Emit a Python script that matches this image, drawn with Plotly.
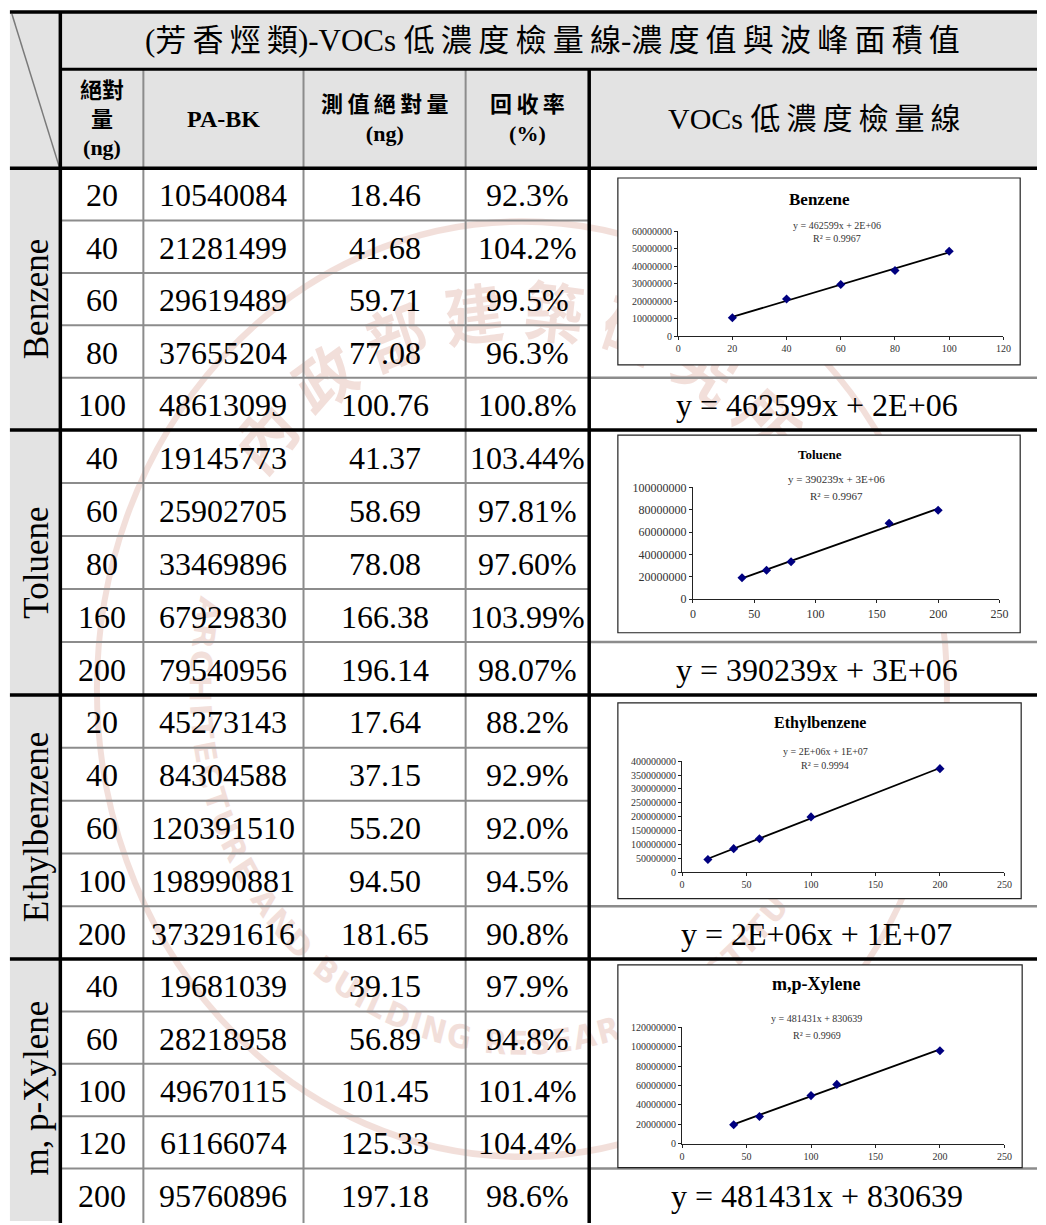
import base64
import math
import numpy as np
import plotly.graph_objects as go

W, H = 1046, 1225

# ---------------- data ----------------
group_labels = ["Benzene", "Toluene", "Ethylbenzene", "m, p-Xylene"]
chart_titles = ["Benzene", "Toluene", "Ethylbenzene", "m,p-Xylene"]

benzene_ng = [20, 40, 60, 80, 100]
benzene_area = [10540084, 21281499, 29619489, 37655204, 48613099]
benzene_meas = ["18.46", "41.68", "59.71", "77.08", "100.76"]
benzene_rec = ["92.3%", "104.2%", "99.5%", "96.3%", "100.8%"]

toluene_ng = [40, 60, 80, 160, 200]
toluene_area = [19145773, 25902705, 33469896, 67929830, 79540956]
toluene_meas = ["41.37", "58.69", "78.08", "166.38", "196.14"]
toluene_rec = ["103.44%", "97.81%", "97.60%", "103.99%", "98.07%"]

ethyl_ng = [20, 40, 60, 100, 200]
ethyl_area = [45273143, 84304588, 120391510, 198990881, 373291616]
ethyl_meas = ["17.64", "37.15", "55.20", "94.50", "181.65"]
ethyl_rec = ["88.2%", "92.9%", "92.0%", "94.5%", "90.8%"]

xylene_ng = [40, 60, 100, 120, 200]
xylene_area = [19681039, 28218958, 49670115, 61166074, 95760896]
xylene_meas = ["39.15", "56.89", "101.45", "125.33", "197.18"]
xylene_rec = ["97.9%", "94.8%", "101.4%", "104.4%", "98.6%"]

equations = ["y = 462599x + 2E+06", "y = 390239x + 3E+06",
             "y = 2E+06x + 1E+07", "y = 481431x + 830639"]
r_squared = ["0.9967", "0.9967", "0.9994", "0.9969"]

x_axis_max = [120, 250, 250, 250]
x_axis_dtick = [20, 50, 50, 50]
y_axis_max = [60000000, 100000000, 400000000, 120000000]
y_axis_dtick = [10000000, 20000000, 50000000, 20000000]

title_text = "(芳香烴類)-VOCs 低濃度檢量線-濃度值與波峰面積值"
header_ng = "絕對<br>量<br>(ng)"
header_pabk = "PA-BK"
header_meas = "測值絕對量<br>(ng)"
header_rec = "回收率<br>(%)"
header_curve = "VOCs 低濃度檢量線"
seal_cn = "內政部建築研究所"
seal_en = "ARCHITECTURE AND BUILDING RESEARCH INSTITUTE"

groups = [
    (benzene_ng, benzene_area, benzene_meas, benzene_rec),
    (toluene_ng, toluene_area, toluene_meas, toluene_rec),
    (ethyl_ng, ethyl_area, ethyl_meas, ethyl_rec),
    (xylene_ng, xylene_area, xylene_meas, xylene_rec),
]

# ---------------- geometry (pixels) ----------------
COLS = [7, 58, 142, 304, 468, 593, 1043]
HEAD = [5, 63, 163]
GROUP_TOP = [163, 428, 696, 963]
GROUP_BOT = [428, 696, 963, 1228]

CHART_BOX = [(622, 173, 1029, 362), (622, 433, 1029, 633),
             (622, 704, 1030, 902), (622, 969, 1031, 1174)]
PLOT_AREA = [(683, 227, 1012, 333), (698, 486, 1008, 599),
             (687, 763, 1013, 875), (687, 1032, 1013, 1150)]
TITLE_POS = [(826, 195, 17), (826, 453, 13), (826, 724, 16), (823, 988, 18)]
EQ_POS = [(844, 221, 234, 10), (843, 477, 495, 11), (832, 753, 767, 10), (823, 1023, 1040, 10)]
TICK_SIZE = [10, 12, 10, 10]

FONT = "Liberation Serif, Noto Sans CJK TC, serif"
CJK = "Liberation Serif, Noto Sans CJK TC, sans-serif"
TNR = "Liberation Serif, Times New Roman, serif"
GRID = "#8c8c8c"
HEADFILL = "#e3e3e3"


def px(x):
    return x / W


def py(y):
    return 1 - y / H


def is_cjk(c):
    return ord(c) > 0x2E80


def spread(s):
    out = ""
    for i, c in enumerate(s):
        out += c
        if i + 1 < len(s) and is_cjk(c) and is_cjk(s[i + 1]):
            out += "\u2009"
    return out


shapes, annots = [], []


def rect(x0, y0, x1, y1, fill, lc="rgba(0,0,0,0)", lw=0):
    shapes.append(dict(type="rect", xref="paper", yref="paper",
                       x0=px(x0), x1=px(x1), y0=py(y1), y1=py(y0),
                       fillcolor=fill, line=dict(color=lc, width=lw), layer="below"))


def seg(x0, y0, x1, y1, color, w):
    shapes.append(dict(type="line", xref="paper", yref="paper",
                       x0=px(x0), y0=py(y0), x1=px(x1), y1=py(y1),
                       line=dict(color=color, width=w), layer="below"))


def text(x, y, s, size, family=FONT, color="black", angle=0, bold=False):
    annots.append(dict(x=px(x), y=py(y), xref="paper", yref="paper", text=s,
                       showarrow=False, xanchor="center", yanchor="middle",
                       textangle=angle,
                       font=dict(family=family, size=size, color=color,
                                 weight="bold" if bold else "normal")))


# ---------------- fills ----------------
rect(COLS[0], HEAD[0], 1046, HEAD[2], HEADFILL)
for g in range(4):
    rect(COLS[0], GROUP_TOP[g], COLS[1] - 1, GROUP_BOT[g], HEADFILL)

# ---------------- table lines ----------------
for g in range(4):
    rh = (GROUP_BOT[g] - GROUP_TOP[g]) / 5
    for r in range(1, 5):
        yy = GROUP_TOP[g] + r * rh
        seg(COLS[1], yy, COLS[5], yy, GRID, 2)
    yy = GROUP_TOP[g] + 4 * rh
    seg(COLS[5], yy, 1046, yy, GRID, 2.5)
for c in (2, 3, 4):
    seg(COLS[c], HEAD[1], COLS[c], H + 5, GRID, 2)
seg(COLS[0] + 2, HEAD[0] + 2, COLS[1] - 1, HEAD[2] - 1, "#7a7a7a", 1.5)
seg(COLS[0], HEAD[0], 1046, HEAD[0], "black", 3.5)
seg(COLS[1], HEAD[1], 1046, HEAD[1], "black", 3)
seg(COLS[0], HEAD[2], 1046, HEAD[2], "black", 3.5)
for g in range(1, 4):
    seg(COLS[0], GROUP_TOP[g], 1046, GROUP_TOP[g], "black", 3.5)
seg(COLS[1], HEAD[0], COLS[1], H + 5, "black", 3.5)
seg(COLS[5], HEAD[1], COLS[5], H + 5, "black", 3.5)

# ---------------- chart boxes ----------------
for b in CHART_BOX:
    rect(b[0], b[1], b[2], b[3], "white", "#222222", 1.2)

# ---------------- header text ----------------
text(556, 34, spread(title_text), 31, CJK)
text((COLS[1] + COLS[2]) / 2, 113, header_ng, 22, CJK, bold=True)
text((COLS[2] + COLS[3]) / 2, 113, header_pabk, 24, FONT, bold=True)
text((COLS[3] + COLS[4]) / 2, 113, spread(header_meas), 22, CJK, bold=True)
text((COLS[4] + COLS[5]) / 2, 113, spread(header_rec), 22, CJK, bold=True)
text(821, 113, spread(header_curve), 30, CJK)

# ---------------- body text ----------------
for g, (ng, area, meas, rec) in enumerate(groups):
    rh = (GROUP_BOT[g] - GROUP_TOP[g]) / 5
    for r in range(5):
        yc = GROUP_TOP[g] + (r + 0.5) * rh + 1
        text((COLS[1] + COLS[2]) / 2, yc, str(ng[r]), 32)
        text((COLS[2] + COLS[3]) / 2, yc, str(area[r]), 32)
        text((COLS[3] + COLS[4]) / 2, yc, meas[r], 32)
        text((COLS[4] + COLS[5]) / 2, yc, rec[r], 32)
    yc = GROUP_TOP[g] + 4.5 * rh + 1
    text(823, yc, equations[g], 32)
    text((COLS[0] + COLS[1]) / 2 + 1, (GROUP_TOP[g] + min(GROUP_BOT[g], H)) / 2,
         group_labels[g], 35, angle=-90)

# ---------------- charts ----------------
fig = go.Figure()
layout_axes = {}
for i, (ng, area, _, _) in enumerate(groups):
    sfx = "" if i == 0 else str(i + 1)
    xa, ya = "x" + sfx, "y" + sfx
    coef = np.polyfit(ng, area, 1)
    xs = np.array([min(ng), max(ng)], dtype=float)
    fig.add_trace(go.Scatter(x=xs, y=np.polyval(coef, xs), mode="lines",
                             line=dict(color="black", width=1.8),
                             xaxis=xa, yaxis=ya, hoverinfo="skip", showlegend=False))
    fig.add_trace(go.Scatter(x=ng, y=area, mode="markers",
                             marker=dict(symbol="diamond", size=7, color="#000080"),
                             xaxis=xa, yaxis=ya, showlegend=False))
    x0, y0, x1, y1 = PLOT_AREA[i]
    tf = dict(family=TNR, size=TICK_SIZE[i], color="#333333")
    layout_axes["xaxis" + sfx] = dict(
        domain=[px(x0), px(x1)], anchor=ya, range=[0, x_axis_max[i]],
        dtick=x_axis_dtick[i], tick0=0, showgrid=False, zeroline=False,
        showline=True, linecolor="#222222", linewidth=1.2, ticks="outside",
        ticklen=3, tickcolor="#222222", tickfont=tf, fixedrange=True)
    layout_axes["yaxis" + sfx] = dict(
        domain=[py(y1), py(y0)], anchor=xa, range=[0, y_axis_max[i]],
        dtick=y_axis_dtick[i], tick0=0, showgrid=False, zeroline=False,
        showline=True, linecolor="#222222", linewidth=1.2, ticks="outside",
        ticklen=3, tickcolor="#222222", tickfont=tf, tickformat="d",
        fixedrange=True)
    tx, ty, ts = TITLE_POS[i]
    text(tx, ty, chart_titles[i], ts, TNR, bold=True)
    ex, ey, ry, es = EQ_POS[i]
    text(ex, ey, equations[i], es, TNR, color="#333333")
    text(ex, ry, "R\u00b2 = " + r_squared[i], es, TNR, color="#333333")

# ---------------- watermark (faint seal) ----------------
cx, cy, sy = 525, 690, 1.1
rt, re_, rc = 325, 336, 430


def pt(r, deg):
    return cx + r * math.cos(math.radians(deg)), cy - r * math.sin(math.radians(deg))


a0 = pt(rt, 165); a1 = pt(rt, 15)
b0 = pt(re_, 160); b1 = pt(re_, 380)
col = "rgb(198,112,92)"
svg = f'''<svg xmlns="http://www.w3.org/2000/svg" xmlns:xlink="http://www.w3.org/1999/xlink" width="{W}" height="{H}" viewBox="0 0 {W} {H}">
<defs>
<path id="t" d="M {a0[0]:.1f} {a0[1]:.1f} A {rt} {rt} 0 0 1 {a1[0]:.1f} {a1[1]:.1f}"/>
<path id="b" d="M {b0[0]:.1f} {b0[1]:.1f} A {re_} {re_} 0 1 0 {b1[0]:.1f} {b1[1]:.1f}"/>
</defs>
<g opacity="0.22" transform="translate({cx} {cy}) scale(1 {sy}) translate({-cx} {-cy})">
<circle cx="{cx}" cy="{cy}" r="{rc}" fill="none" stroke="{col}" stroke-width="6"/>
<text font-family="Noto Sans CJK TC" font-weight="bold" font-size="60" fill="{col}" letter-spacing="16">
<textPath xlink:href="#t" href="#t" startOffset="50%" text-anchor="middle">{seal_cn}</textPath></text>
<text font-family="DejaVu Sans" font-weight="bold" font-size="30" fill="{col}" letter-spacing="2">
<textPath xlink:href="#b" href="#b" startOffset="30">{seal_en}</textPath></text>
</g>
</svg>'''
src = "data:image/svg+xml;base64," + base64.b64encode(svg.encode("utf-8")).decode()

fig.update_layout(
    width=W, height=H, margin=dict(l=0, r=0, t=0, b=0),
    paper_bgcolor="white", plot_bgcolor="rgba(0,0,0,0)",
    showlegend=False, shapes=shapes, annotations=annots,
    images=[dict(source=src, xref="paper", yref="paper", x=0, y=1, sizex=1, sizey=1,
                 xanchor="left", yanchor="top", sizing="stretch", layer="below")],
    **layout_axes,
)

fig.write_html("out.html", config={"displayModeBar": False})
